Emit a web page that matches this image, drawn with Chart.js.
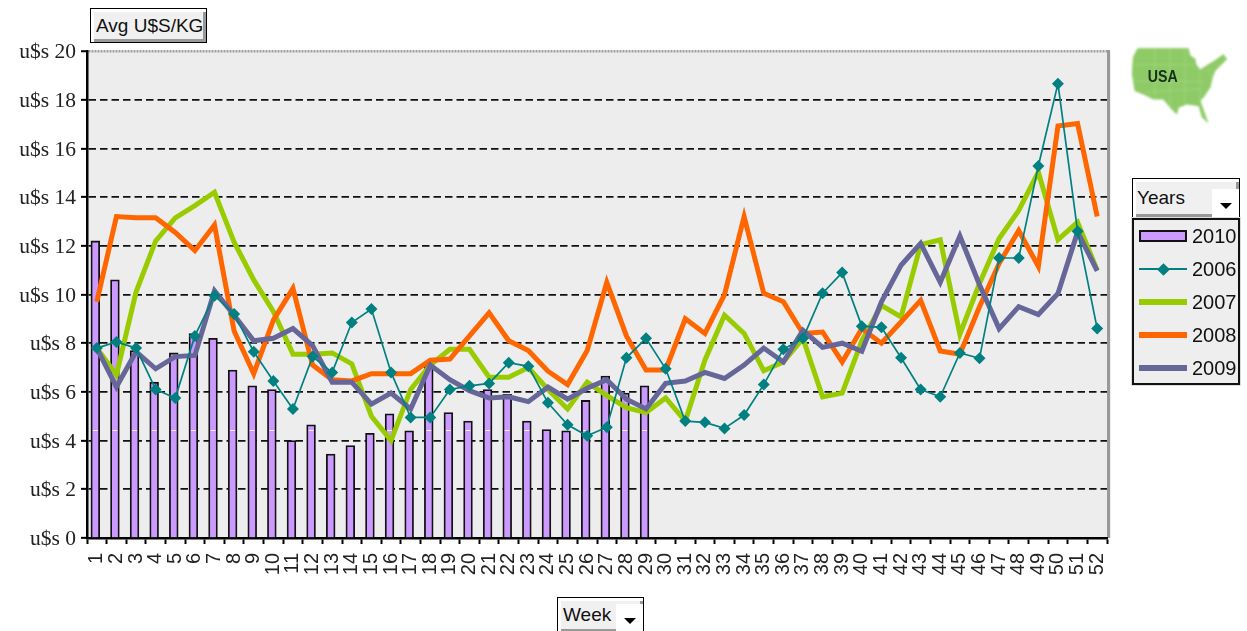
<!DOCTYPE html>
<html>
<head>
<meta charset="utf-8">
<script src="https://cdn.jsdelivr.net/npm/chart.js@4"></script>
<style>
html,body{margin:0;padding:0;background:#fff;width:1247px;height:631px;overflow:hidden}
#wrap{position:relative;width:1247px;height:631px}
canvas#c{position:absolute;left:0;top:0}
.btn{position:absolute;box-sizing:border-box;border:1px solid #000;background:#fff;font:19px "Liberation Sans",Arial,sans-serif;color:#111}
.btn .in{position:absolute;left:3px;top:3px;right:0;bottom:0;background:#f0f0f0;border-bottom:3px solid #999;border-right:3px solid #999;box-sizing:border-box;line-height:26px;padding-left:2px;white-space:nowrap}
.drop{position:absolute;right:-3px;bottom:-3px;background:#fff;width:27px;height:28px}
.drop:after{content:"";position:absolute;left:8px;top:14px;border-left:6px solid transparent;border-right:6px solid transparent;border-top:6px solid #000}
#legend{position:absolute;left:1132px;top:218px;width:108px;height:167px;box-sizing:border-box;border:2px solid #111;background:#eee;font:20px "Liberation Sans",Arial,sans-serif;color:#111;box-shadow:0 0 0 1px #ddd}
.row{position:absolute;left:0;width:100%;height:24px}
.row span{position:absolute;left:58px;top:0;line-height:24px}
.sw{position:absolute;left:5px;width:48px}
.dia{position:absolute;width:9px;height:9px;transform:rotate(45deg)}
#map{position:absolute;left:1125px;top:44px}
</style>
</head>
<body>
<div id="wrap">
<canvas id="c" width="1247" height="631"></canvas>
<div class="btn" style="left:90px;top:8px;width:117px;height:35px"><div class="in" style="line-height:27px">Avg U$S/KG</div></div>
<div class="btn" style="left:1132px;top:178px;width:108px;height:40px"><div class="in" style="line-height:32px;padding-left:1px">Years<div class="drop"></div></div></div>
<div class="btn" style="left:557px;top:597px;width:87px;height:36px"><div class="in" style="line-height:28px">Week<div class="drop"></div></div></div>
<svg id="map" width="110" height="82" viewBox="0 0 330 246">
<defs><filter id="b"><feGaussianBlur stdDeviation="2.5"/></filter></defs>
<g filter="url(#b)">
<polygon fill="#8ecb66" stroke="#8ecb66" stroke-width="3" points="38,14 190,14 195,35 210,45 212,60 225,78 238,70 245,65 270,50 295,32 305,45 290,60 270,80 262,100 255,130 235,160 225,170 248,235 232,220 222,185 185,180 160,190 155,210 140,195 115,165 85,165 55,150 30,140 22,90 25,40"/>
<path fill="none" stroke="#a8d98a" stroke-width="2" d="M30,62H205 M25,112H240 M60,145L225,135 M90,14V160 M135,14V190 M180,14V180 M225,80V170 M250,70L262,105"/>
</g>
<text x="68" y="114" font-family="Liberation Sans,Arial,sans-serif" font-weight="bold" font-size="50" fill="#16301c" textLength="90" lengthAdjust="spacingAndGlyphs">USA</text>
</svg>
<div id="legend"></div>
</div>
<script>
const weeks = ["1","2","3","4","5","6","7","8","9","10","11","12","13","14","15","16","17","18","19","20","21","22","23","24","25","26","27","28","29","30","31","32","33","34","35","36","37","38","39","40","41","42","43","44","45","46","47","48","49","50","51","52"];
const values2010 = [12.2,10.6,7.7,6.4,7.6,8.4,8.2,6.9,6.25,6.1,4.0,4.65,3.45,3.8,4.3,5.1,4.4,7.1,5.15,4.8,6.1,5.9,4.8,4.45,4.4,5.65,6.65,5.95,6.25];
const values2006 = [7.8,8.05,7.8,6.1,5.75,8.3,9.95,9.2,7.65,6.45,5.3,7.45,6.8,8.85,9.4,6.8,4.95,4.95,6.1,6.25,6.35,7.2,7.05,5.55,4.65,4.2,4.55,7.4,8.2,6.95,4.8,4.75,4.5,5.05,6.3,7.75,8.2,10.05,10.9,8.7,8.65,7.4,6.1,5.8,7.6,7.38,11.5,11.5,15.28,18.66,12.6,8.6];
const values2007 = [7.8,6.7,10.1,12.2,13.15,13.65,14.2,12.15,10.6,9.3,7.55,7.55,7.6,7.15,5.0,4.0,6.1,7.1,7.75,7.75,6.6,6.6,7.0,6.1,5.3,6.4,5.85,5.35,5.15,5.75,4.8,7.3,9.15,8.4,6.87,7.23,8.2,5.8,5.95,8.1,9.55,9.08,12.05,12.25,8.37,10.45,12.3,13.45,15.03,12.25,12.97,11.0];
const values2008 = [9.7,13.2,13.15,13.15,12.55,11.8,12.85,8.5,6.75,8.95,10.25,7.1,6.5,6.45,6.75,6.75,6.75,7.3,7.35,8.3,9.25,8.1,7.7,6.85,6.3,7.7,10.5,8.3,6.9,6.9,9.0,8.4,10.0,13.2,10.05,9.7,8.4,8.46,7.23,8.6,8.0,8.87,9.76,7.68,7.55,9.5,11.27,12.63,11.15,16.92,17.02,13.2];
const values2009 = [7.8,6.2,7.65,6.95,7.45,7.5,10.15,9.15,8.1,8.2,8.6,7.9,6.4,6.4,5.5,5.95,5.3,7.1,6.5,6.05,5.75,5.8,5.6,6.2,5.7,6.15,6.5,5.7,5.3,6.35,6.45,6.8,6.55,7.1,7.8,7.23,8.53,7.83,8.0,7.67,9.7,11.2,12.1,10.5,12.4,10.4,8.6,9.5,9.18,10.04,12.57,10.97];
const seriesNames = ["2010","2006","2007","2008","2009"];
const yPrefix = "u$s ";
const barStreakValue = 4.45;

const plotDecor = {
  id:'plotDecor',
  beforeDraw(ch){
    const a = ch.chartArea, g = ch.ctx;
    g.save();
    g.fillStyle = '#ededed';
    g.fillRect(a.left, a.top, a.right - a.left + 4, a.bottom - a.top);
    g.fillStyle = '#999';
    g.fillRect(a.right, a.top - 1, 3, a.bottom - a.top + 1);
    g.restore();
  },
  afterDatasetsUpdate(ch){
    ch.getDatasetMeta(0).data.forEach(el=>{el.x -= 1.5;});
  },
  afterDatasetDraw(ch, args){
    if(args.index !== 0) return;
    const g = ch.ctx, y = Math.round(ch.scales.y.getPixelForValue(barStreakValue)) + 0.5;
    g.save();
    g.strokeStyle = '#fff';
    g.lineWidth = 1;
    g.globalAlpha = 0.9;
    args.meta.data.forEach((el,i)=>{
      if(values2010[i] > barStreakValue + 0.1){
        g.beginPath();
        g.moveTo(el.x - el.width/2 + 2, y);
        g.lineTo(el.x + el.width/2 - 2, y);
        g.stroke();
      }
    });
    g.restore();
  }
};
const lineBase = {type:'line', fill:false, pointRadius:0, pointHoverRadius:0, borderJoinStyle:'miter', borderCapStyle:'butt', tension:0, borderWidth:5, clip:false};
const chart = new Chart(document.getElementById('c'), {
  type:'bar',
  data:{labels:weeks, datasets:[
    {type:'bar', label:seriesNames[0], data:values2010, backgroundColor:'#cc99ff', borderColor:'#111', borderWidth:1.8, barThickness:8.8, order:10},
    {...lineBase, label:seriesNames[1], data:values2006, borderColor:'#008080', backgroundColor:'#008080', borderWidth:1.7, pointRadius:6, pointStyle:'rectRot', pointBackgroundColor:'#008080', pointBorderWidth:0, order:1},
    {...lineBase, label:seriesNames[2], data:values2007, borderColor:'#99cc00', backgroundColor:'#99cc00', order:4},
    {...lineBase, label:seriesNames[3], data:values2008, borderColor:'#ff6600', backgroundColor:'#ff6600', order:3},
    {...lineBase, label:seriesNames[4], data:values2009, borderColor:'#666699', backgroundColor:'#666699', order:2}
  ]},
  options:{
    responsive:false, animation:false, devicePixelRatio:1,
    layout:{padding:{left:0,top:51,right:140,bottom:0}},
    plugins:{legend:{display:false},tooltip:{enabled:false},title:{display:false}},
    scales:{
      x:{
        offset:true,
        afterFit(s){s.height=93;},
        border:{color:'#000',width:2.5},
        grid:{display:true,drawOnChartArea:false,drawTicks:true,tickLength:6,tickColor:'#000',tickWidth:2,offset:true},
        ticks:{font:{family:'"Liberation Sans",Arial,sans-serif',size:20},color:'#222',minRotation:90,maxRotation:90,autoSkip:false,padding:9}
      },
      y:{
        min:0,max:20,
        afterFit(s){s.width=87;},
        border:{color:'#000',width:2.5,dash:c=>c.tick.value===20?[2,1]:[7.5,4]},
        grid:{
          color:c=>c.tick.value===20?'#a0a0a0':'#111',
          lineWidth:c=>c.tick.value===20?2.5:1.7,
          tickColor:'#000',tickWidth:2,tickLength:6,drawTicks:true,tickBorderDash:[]
        },
        afterBuildTicks(s){s.ticks=[];for(let v=0;v<=20;v+=2)s.ticks.push({value:v});},
        ticks:{font:{family:'"Liberation Serif","Times New Roman",serif',size:21.5},color:'#222',padding:5,labelOffset:1.5,callback:v=>yPrefix+v}
      }
    }
  },
  plugins:[plotDecor]
});

const lg = document.getElementById('legend');
chart.data.datasets.forEach((d,i)=>{
  const r = document.createElement('div');
  r.className='row';
  r.style.top=(4+i*33)+'px';
  const sw=document.createElement('div');
  sw.className='sw';
  if(i===0){
    sw.style.cssText+='top:6px;height:12px;box-sizing:border-box;border:2px solid #111;background:'+d.backgroundColor;
  }else{
    const h=i===1?2:5.5;
    sw.style.cssText+='top:'+(12-h/2)+'px;height:'+h+'px;background:'+d.borderColor;
    if(i===1){
      const m=document.createElement('div');m.className='dia';
      m.style.cssText+='left:19.5px;top:-3.5px;background:'+d.borderColor;sw.appendChild(m);
    }
  }
  const t=document.createElement('span');t.textContent=d.label;
  r.appendChild(sw);r.appendChild(t);lg.appendChild(r);
});
</script>
</body>
</html>
